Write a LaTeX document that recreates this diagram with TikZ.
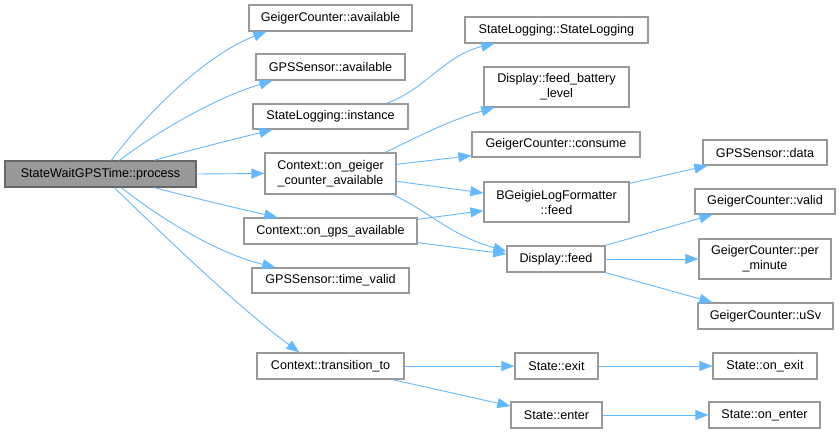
\documentclass[tikz,border=0pt]{standalone}
\usepackage{fontspec}
\setmainfont{Liberation Sans}
\usetikzlibrary{arrows.meta,calc}
\definecolor{edgeblue}{HTML}{63B8FF}
\definecolor{boxline}{HTML}{999999}
\definecolor{rootfill}{HTML}{999999}
\definecolor{rootline}{HTML}{666666}
\begin{document}
\begin{tikzpicture}[x=1pt,y=-1pt,
  box/.style={draw=boxline,fill=white,line width=1.3pt,inner sep=0pt,align=center,
    font=\fontsize{12.6}{15}\selectfont},
  rootbox/.style={box,fill=rootfill,draw=rootline},
  edge/.style={draw=edgeblue,line width=0.9pt,-{Triangle[length=13pt,width=10pt]}}]
\useasboundingbox (0,0) rectangle (840,433);

% column 0
\node[rootbox,minimum width=191pt,minimum height=26pt] (p) at (100.5,174) {StateWaitGPSTime::process};
% column 1
\node[box,minimum width=163pt,minimum height=26pt] (gca) at (330.5,18) {GeigerCounter::available};
\node[box,minimum width=149pt,minimum height=26pt] (gpa) at (330.5,67) {GPSSensor::available};
\node[box,minimum width=155pt,minimum height=25pt] (sli) at (330.5,116.5) {StateLogging::instance};
\node[box,minimum width=131pt,minimum height=41pt] (ogc) at (330.5,173.5) {Context::on\_geiger\\\_counter\_available};
\node[box,minimum width=173pt,minimum height=26pt] (oga) at (330.5,231) {Context::on\_gps\_available};
\node[box,minimum width=157pt,minimum height=25pt] (gtv) at (330.5,280.5) {GPSSensor::time\_valid};
\node[box,minimum width=147pt,minimum height=26pt] (ctt) at (330.5,366) {Context::transition\_to};
% column 2
\node[box,minimum width=183pt,minimum height=26pt] (sls) at (556.5,30) {StateLogging::StateLogging};
\node[box,minimum width=145pt,minimum height=40pt] (dfb) at (556.5,87) {Display::feed\_battery\\\_level};
\node[box,minimum width=168pt,minimum height=25pt] (gcc) at (556,144.5) {GeigerCounter::consume};
\node[box,minimum width=145pt,minimum height=40pt] (bgf) at (556.5,202) {BGeigieLogFormatter\\::feed};
\node[box,minimum width=98pt,minimum height=26pt] (df) at (556,259) {Display::feed};
\node[box,minimum width=83pt,minimum height=26pt] (se) at (556.5,366) {State::exit};
\node[box,minimum width=91pt,minimum height=26pt] (sen) at (556.5,415) {State::enter};
% column 3
\node[box,minimum width=124pt,minimum height=25pt] (gsd) at (765,152.5) {GPSSensor::data};
\node[box,minimum width=140pt,minimum height=25pt] (gcv) at (765,201.5) {GeigerCounter::valid};
\node[box,minimum width=132pt,minimum height=40pt] (gpm) at (765,259) {GeigerCounter::per\\\_minute};
\node[box,minimum width=135pt,minimum height=26pt] (gus) at (765.5,316) {GeigerCounter::uSv};
\node[box,minimum width=104pt,minimum height=26pt] (soe) at (765,366) {State::on\_exit};
\node[box,minimum width=111pt,minimum height=26pt] (son) at (764.5,415) {State::on\_enter};

% edges from root
\draw[edge] ($(p.north west)+(107,0)$) .. controls (145,115) and (205,55) .. ($(gca.south west)+(18,0)$);
\draw[edge] ($(p.north west)+(115,0)$) .. controls (160,130) and (215,98) .. ($(gpa.south west)+(17,0)$);
\draw[edge] ($(p.north west)+(150,0)$) .. controls (190,150) and (235,139) .. ($(sli.south west)+(20,0)$);
\draw[edge] (p.east) -- (ogc.west);
\draw[edge] ($(p.south west)+(150,0)$) .. controls (190,197) and (240,209) .. ($(oga.north west)+(34,0)$);
\draw[edge] ($(p.south west)+(117,0)$) .. controls (165,222) and (220,254) .. ($(gtv.north west)+(24,0)$);
\draw[edge] ($(p.south west)+(110,0)$) .. controls (150,222) and (235,305) .. ($(ctt.north west)+(43,0)$);

% second level
\draw[edge] ($(sli.north west)+(134,0)$) .. controls (425,90) and (445,55) .. ($(sls.south west)+(30,0)$);
\draw[edge] ($(ogc.north west)+(121,0)$) .. controls (415,138) and (450,120) .. ($(dfb.south west)+(11,0)$);
\draw[edge] ($(ogc.north east)+(0,12)$) -- ($(gcc.south west)+(0,-2)$);
\draw[edge] ($(ogc.north east)+(0,29)$) -- ($(bgf.west)+(0,-9)$);
\draw[edge] ($(ogc.south east)+(-4,0)$) .. controls (430,212) and (450,235) .. ($(df.north west)+(0,6)$);
\draw[edge] ($(oga.north east)+(0,2)$) -- ($(bgf.south west)+(0,-12)$);
\draw[edge] ($(oga.south east)+(0,-2)$) -- ($(df.west)+(0,-5)$);
\draw[edge] (ctt.east) -- (se.west);
\draw[edge] ($(ctt.south east)+(-12,0)$) -- ($(sen.west)+(0,-9)$);

% third level
\draw[edge] ($(bgf.north east)+(0,2)$) -- ($(gsd.south west)+(5,0)$);
\draw[edge] (df.north east) -- ($(gcv.south west)+(18,0)$);
\draw[edge] (df.east) -- (gpm.west);
\draw[edge] (df.south east) -- ($(gus.north west)+(15,0)$);
\draw[edge] (se.east) -- (soe.west);
\draw[edge] (sen.east) -- (son.west);
\end{tikzpicture}
\end{document}
